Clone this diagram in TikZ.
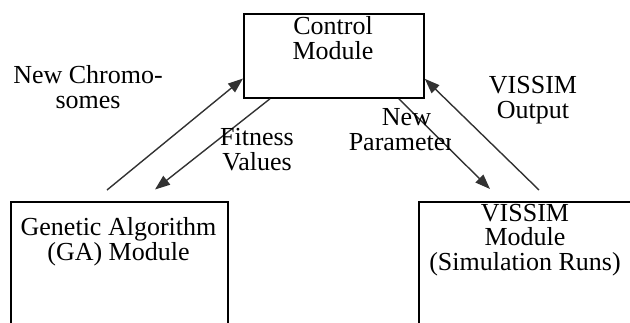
\documentclass[tikz,border=0pt]{standalone}
\usepackage{fontspec}
\setmainfont{Liberation Serif}
\usetikzlibrary{arrows.meta}
\definecolor{arrowgray}{RGB}{50,50,50}
\begin{document}
\begin{tikzpicture}[x=1pt,y=-1pt,
  box/.style={draw=black,line width=1.8pt,rectangle,inner sep=0pt,anchor=north west},
  lbl/.style={inner sep=0pt,align=center,anchor=base,font=\fontsize{26}{24.5}\selectfont},
  flow/.style={draw=arrowgray,line width=1.4pt,-{Triangle[length=15pt,width=11pt]}}]
\useasboundingbox (0,0) rectangle (630,322);
\clip (0,0) rectangle (630,322);
% boxes
\node[box,minimum width=180pt,minimum height=84pt] (ctrl) at (243,13) {};
\node[box,minimum width=217pt,minimum height=140pt] (ga) at (10,200.7) {};
\node[box,minimum width=214pt,minimum height=140pt] (vs) at (418,200.7) {};
% box texts (anchor base = baseline of last line)
\node[lbl] (ctrltxt) at (333,59.3) {Control\\Module};
\node[lbl] (gatxt) at (118.5,260) {Genetic Algorithm\\(GA) Module};
\node[lbl] (vstxt) at (525,270) {VISSIM\\Module\\(Simulation Runs)};
% free ends of connectors
\coordinate (gaout) at (107,190);
\coordinate (gain) at (155,189.5);
\coordinate (vsin) at (490,189);
\coordinate (vsout) at (539,190);
% connectors
\draw[flow] (gaout) -- ([yshift=20.3pt]ctrl.south west);
\draw[flow] ([xshift=27pt]ctrl.south west) -- (gain);
\draw[flow] ([xshift=-26pt]ctrl.south east) -- (vsin);
\draw[flow] (vsout) -- ([yshift=20pt]ctrl.south east);
% labels
\node[lbl] (chromlbl) at (88,108) {New Chromo-\\somes};
\node[lbl] (fitlbl) at (257,170) {Fitness\\Values};
\node[lbl] (vsoutlbl) at (533,118.3) {VISSIM\\Output};
\begin{scope}
\clip (330,95) rectangle (450,175);
\node[lbl] (paramlbl) at (406.5,150) {New\\Parameters};
\end{scope}
\end{tikzpicture}
\end{document}
